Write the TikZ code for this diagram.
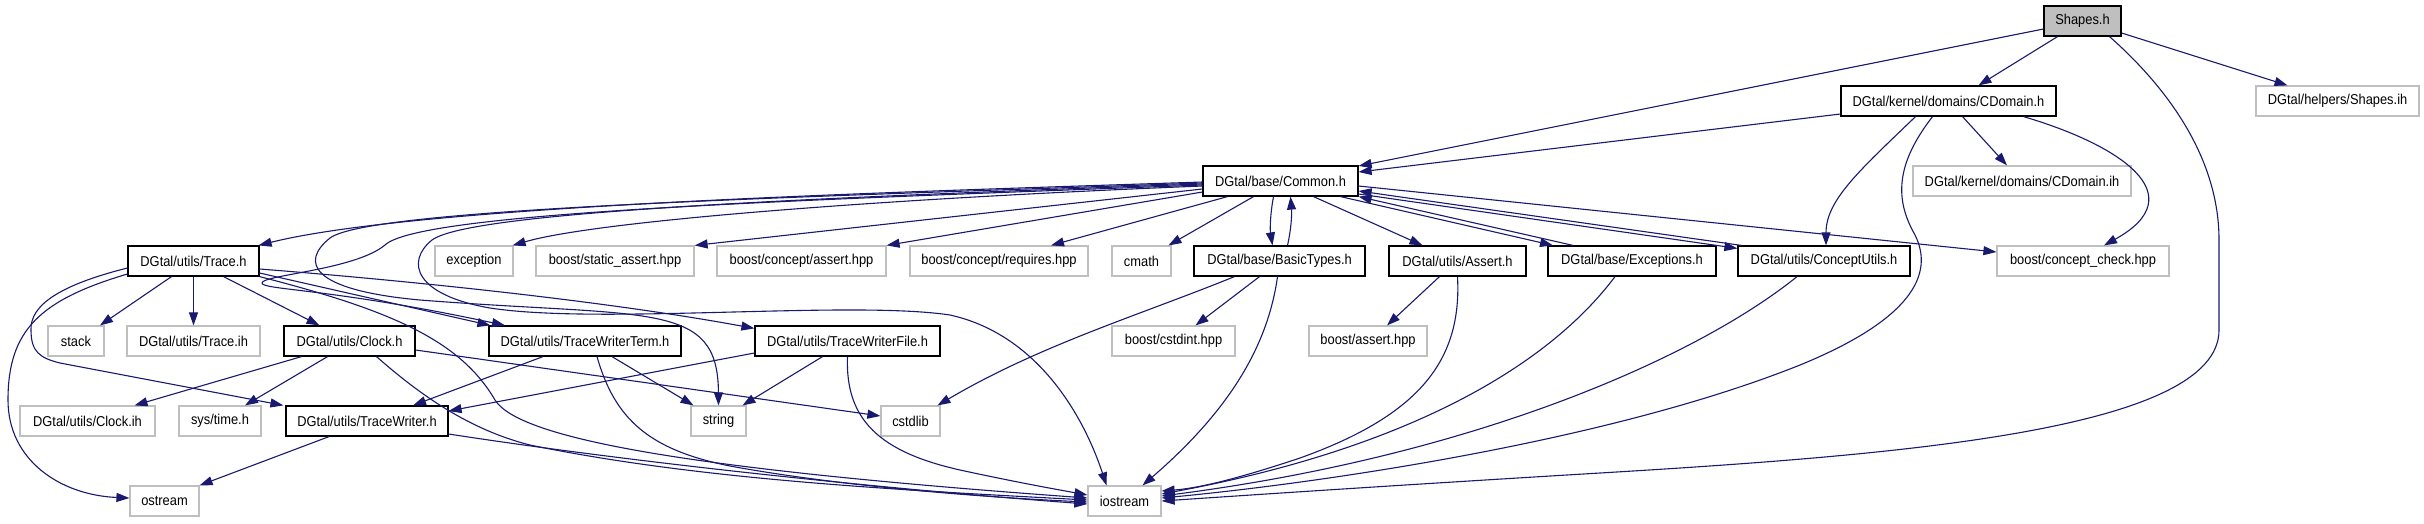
\documentclass[tikz,border=0pt]{standalone}
\usepackage{fontspec}
\setmainfont{Liberation Sans}[FakeStretch=0.9]
\usetikzlibrary{arrows.meta}
\definecolor{edgecol}{HTML}{191970}
\definecolor{graybox}{HTML}{BFBFBF}
\begin{document}
\begin{tikzpicture}[x=1pt,y=-1pt,
  base/.style={rectangle, minimum height=30, inner sep=0pt, font=\fontsize{14.3}{16}\selectfont, line width=1.2pt, fill=white},
  bk/.style={base, draw=black},
  gy/.style={base, draw=graybox},
  cur/.style={base, draw=black, fill=graybox},
  e/.style={draw=edgecol, line width=1.1pt, -{Triangle[length=13pt,width=9pt]}}]
\fill[white] (0,0) rectangle (2424,523);
\useasboundingbox (0,0) rectangle (2424,523);
% row 1
\node[cur, minimum width=77] (shapes) at (2082.5,21) {Shapes.h};
% row 2
\node[bk, minimum width=215] (cdomain) at (1948.5,101) {DGtal/kernel/domains/CDomain.h};
\node[gy, minimum width=163] (shih) at (2337.5,101) {DGtal/helpers/Shapes.ih};
% row 3
\node[bk, minimum width=155] (common) at (1280.5,181) {DGtal/base/Common.h};
\node[gy, minimum width=218] (cdih) at (2022,181) {DGtal/kernel/domains/CDomain.ih};
% row 4
\node[bk, minimum width=131] (trace) at (193.5,261) {DGtal/utils/Trace.h};
\node[gy, minimum width=78] (exception) at (474,261) {exception};
\node[gy, minimum width=158] (sassert) at (615,261) {boost/static\_assert.hpp};
\node[gy, minimum width=169] (cassert) at (801.5,261) {boost/concept/assert.hpp};
\node[gy, minimum width=178] (creq) at (999,261) {boost/concept/requires.hpp};
\node[gy, minimum width=59] (cmath) at (1141.5,261) {cmath};
\node[bk, minimum width=171] (basic) at (1279.5,261) {DGtal/base/BasicTypes.h};
\node[bk, minimum width=137] (assert) at (1457.5,261) {DGtal/utils/Assert.h};
\node[bk, minimum width=168] (except) at (1632,261) {DGtal/base/Exceptions.h};
\node[bk, minimum width=172] (cutils) at (1824,261) {DGtal/utils/ConceptUtils.h};
\node[gy, minimum width=172] (ccheck) at (2083,261) {boost/concept\_check.hpp};
% row 5
\node[gy, minimum width=56] (stack) at (76,341) {stack};
\node[gy, minimum width=133] (traceih) at (193.5,341) {DGtal/utils/Trace.ih};
\node[bk, minimum width=131] (clock) at (349.5,341) {DGtal/utils/Clock.h};
\node[bk, minimum width=192] (twterm) at (585,341) {DGtal/utils/TraceWriterTerm.h};
\node[bk, minimum width=185] (twfile) at (847.5,341) {DGtal/utils/TraceWriterFile.h};
\node[gy, minimum width=123] (cstdint) at (1173.5,341) {boost/cstdint.hpp};
\node[gy, minimum width=118] (bassert) at (1368,341) {boost/assert.hpp};
% row 6
\node[gy, minimum width=135] (clockih) at (87.5,421) {DGtal/utils/Clock.ih};
\node[gy, minimum width=82] (systime) at (220,421) {sys/time.h};
\node[bk, minimum width=162] (tw) at (367,421) {DGtal/utils/TraceWriter.h};
\node[gy, minimum width=55] (string) at (718.5,421) {string};
\node[gy, minimum width=59] (cstdlib) at (910.5,421) {cstdlib};
% row 7
\node[gy, minimum width=69] (ostream) at (164.5,501) {ostream};
\node[gy, minimum width=73] (iostream) at (1124.5,501) {iostream};

% Shapes.h
\draw[e] ([yshift=-8]shapes.west) -- ([yshift=15]common.east);
\draw[e] ([xshift=-25]shapes.south) -- ([xshift=30]cdomain.north);
\draw[e] ([yshift=-12]shapes.east) -- ([xshift=-50]shih.north);
\draw[e] ([xshift=27]shapes.south) .. controls (2170,90) and (2219,160) .. (2219,240) -- (2219,330) .. controls (2219,430) and (1900,455) .. (1600,473) .. controls (1400,485) and (1250,495) .. (iostream.east);
% CDomain.h
\draw[e] ([yshift=-13]cdomain.west) -- ([yshift=9]common.east);
\draw[e] ([xshift=-33]cdomain.south) .. controls (1860,170) and (1826,200) .. ([xshift=2]cutils.north);
\draw[e] ([xshift=-16]cdomain.south) .. controls (1895,165) and (1895,200) .. (1915,235) .. controls (1935,275) and (1910,320) .. (1800,365) .. controls (1600,445) and (1300,485) .. ([yshift=3]iostream.east);
\draw[e] ([xshift=14]cdomain.south) -- ([xshift=-15]cdih.north);
\draw[e] ([xshift=75]cdomain.south) .. controls (2120,145) and (2195,195) .. ([xshift=21]ccheck.north);
% Common.h
\draw[e] ([yshift=-1]common.west) .. controls (900,192) and (420,205) .. ([xshift=-1]trace.north east);
\draw[e] ([yshift=-5]common.west) .. controls (900,198) and (600,220) .. ([xshift=-1]exception.north east);
\draw[e] ([yshift=-8]common.west) -- (sassert.north east);
\draw[e] ([yshift=-11]common.west) -- (cassert.north east);
\draw[e] ([xshift=-53]common.south) -- ([xshift=52]creq.north);
\draw[e] ([xshift=-27]common.south) -- ([xshift=27]cmath.north);
\draw[e] ([xshift=-7]common.south) .. controls (1270,215) and (1270,230) .. ([xshift=-7]basic.north);
\draw[e] ([xshift=8]basic.north) .. controls (1291,230) and (1292,215) .. ([xshift=10]common.south);
\draw[e] ([xshift=33]common.south) -- ([xshift=-35]assert.north);
\draw[e] ([xshift=60]common.south) -- ([xshift=-79]except.north);
\draw[e] ([xshift=-59]except.north) -- (common.south east);
\draw[e] ([yshift=-13]common.east) -- ([yshift=-3]cutils.north west);
\draw[e] ([xshift=4]cutils.north west) -- ([yshift=-10]common.east);
\draw[e] ([yshift=-5]common.east) -- ([yshift=9]ccheck.west);
\draw[e] ([yshift=-3]common.west) .. controls (800,198) and (470,212) .. (432,240) .. controls (405,262) and (415,295) .. (490,308) .. controls (600,325) and (850,300) .. (950,315) .. controls (1040,335) and (1085,420) .. ([xshift=-18]iostream.north);
\draw[e] ([yshift=-2]common.west) .. controls (800,197) and (370,208) .. (330,238) .. controls (300,262) and (310,290) .. (420,300) .. controls (650,318) and (718,300) .. (string.north);
\draw[e] ([yshift=-4]common.west) .. controls (800,200) and (420,212) .. (385,245) .. controls (355,270) and (262,275) .. (262,283) .. controls (262,290) and (330,288) .. ([xshift=-80]twterm.north);
% Trace.h
\draw[e] ([yshift=-12]trace.east) -- ([xshift=2]twterm.north west);
\draw[e] ([yshift=-8]trace.east) .. controls (400,280) and (600,300) .. ([yshift=-3]twfile.north west);
\draw[e] (trace.south east) .. controls (390,310) and (460,340) .. (495,400) .. controls (520,440) and (700,470) .. ([yshift=3]iostream.west);
\draw[e] ([xshift=-22]trace.south) -- ([xshift=24]stack.north);
\draw[e] (trace.south) -- (traceih.north);
\draw[e] ([xshift=30]trace.south) -- ([xshift=-30]clock.north);
\draw[e] ([yshift=-7]trace.west) .. controls (60,285) and (30,305) .. (31,330) .. controls (31,352) and (40,358) .. (60,363) -- ([xshift=-2]tw.north west);
\draw[e] ([yshift=-13]trace.west) .. controls (40,300) and (8,330) .. (8,400) .. controls (8,460) and (60,495) .. ([yshift=3]ostream.west);
% Clock.h
\draw[e] ([xshift=-48]clock.south) -- ([xshift=47]clockih.north);
\draw[e] ([xshift=-22]clock.south) -- ([xshift=25]systime.north);
\draw[e] ([xshift=27]clock.south) .. controls (420,395) and (470,430) .. (530,445) .. controls (700,480) and (900,490) .. ([yshift=1]iostream.west);
\draw[e] ([yshift=-9]clock.east) -- ([yshift=5]cstdlib.west);
% TraceWriterTerm.h
\draw[e] ([xshift=-42]twterm.south) -- ([xshift=46]tw.north);
\draw[e] ([xshift=27]twterm.south) -- ([xshift=-25]string.north);
\draw[e] ([xshift=12]twterm.south) .. controls (615,420) and (650,450) .. (730,466) .. controls (850,488) and (1000,498) .. ([yshift=-1]iostream.west);
% TraceWriterFile.h
\draw[e] ([yshift=-12]twfile.west) -- ([yshift=10]tw.east);
\draw[e] ([xshift=-25]twfile.south) -- ([xshift=24]string.north);
\draw[e] (twfile.south) .. controls (845,420) and (880,452) .. (960,470) .. controls (1020,483) and (1060,490) .. ([yshift=6]iostream.west);
% TraceWriter.h
\draw[e] ([xshift=-38]tw.south) -- (ostream.north east);
\draw[e] ([yshift=-13]tw.east) .. controls (650,465) and (900,490) .. ([yshift=-3]iostream.west);
% BasicTypes.h
\draw[e] ([xshift=-45]basic.south) .. controls (1140,315) and (1040,345) .. ([xshift=27]cstdlib.north);
\draw[e] ([xshift=-20]basic.south) -- ([xshift=22]cstdint.north);
\draw[e] ([xshift=-2]basic.south) .. controls (1268,345) and (1230,410) .. ([xshift=18]iostream.north);
% Assert.h
\draw[e] ([xshift=-18]assert.south) -- ([xshift=19]bassert.north);
\draw[e] (assert.south) .. controls (1462,360) and (1420,415) .. (1300,458) .. controls (1240,478) and (1200,488) .. ([yshift=10]iostream.east);
% Exceptions.h, ConceptUtils.h
\draw[e] ([xshift=-17]except.south) .. controls (1545,370) and (1400,450) .. ([yshift=7]iostream.east);
\draw[e] ([xshift=-27]cutils.south) .. controls (1700,355) and (1480,455) .. ([yshift=5]iostream.east);
\end{tikzpicture}
\end{document}
